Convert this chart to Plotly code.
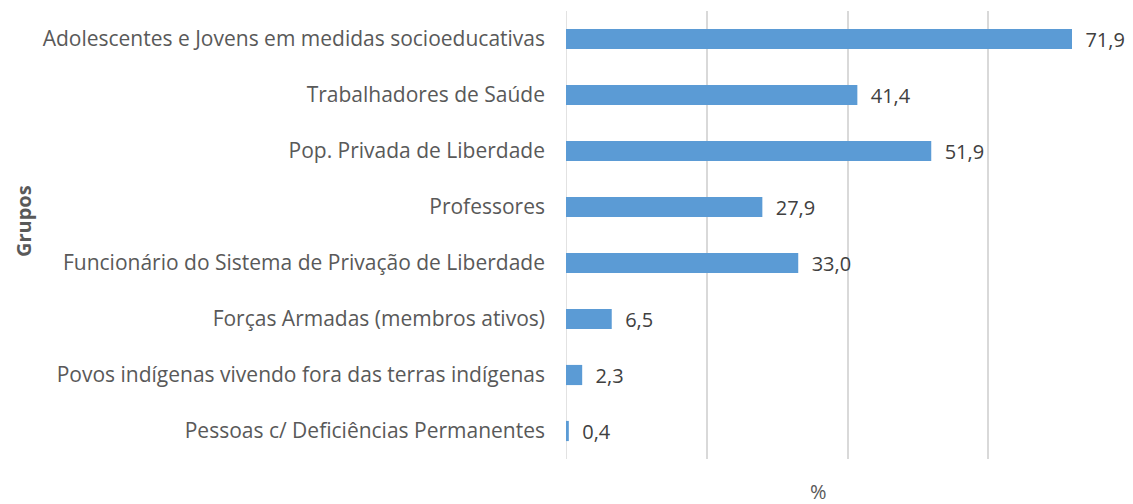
import plotly.graph_objects as go

categories = [
    "Adolescentes e Jovens em medidas socioeducativas",
    "Trabalhadores de Saúde",
    "Pop. Privada de Liberdade",
    "Professores",
    "Funcionário do Sistema de Privação de Liberdade",
    "Forças Armadas (membros ativos)",
    "Povos indígenas vivendo fora das terras indígenas",
    "Pessoas c/ Deficiências Permanentes",
]
values = [71.9, 41.4, 51.9, 27.9, 33.0, 6.5, 2.3, 0.4]
x_ticks = [0, 20, 40, 60, 80]

FONT = "Open Sans"
LABEL = "#595959"

# page body has an 8px default margin: figure occupies 8..1133 x 8..504
fig = go.Figure(
    go.Bar(
        x=values,
        y=categories,
        orientation="h",
        marker=dict(color="#5B9BD5", line=dict(width=0)),
        width=0.36,
        texttemplate="\u00a0\u00a0%{x:.1f}",
        textposition="outside",
        constraintext="none",
        textfont=dict(family=FONT, size=20, color="#404040"),
        cliponaxis=False,
        hoverinfo="skip",
    )
)

fig.update_layout(
    width=1125,
    height=496,
    separators=",.",
    margin=dict(l=558, r=4, t=3, b=45),
    paper_bgcolor="white",
    plot_bgcolor="white",
    showlegend=False,
    font=dict(family=FONT, size=20, color=LABEL),
)

fig.update_xaxes(
    range=[0, 80],
    tickvals=x_ticks,
    showticklabels=False,
    showgrid=True,
    gridcolor="#D9D9D9",
    gridwidth=1.5,
    zeroline=False,
    showline=False,
    ticks="",
)
fig.update_yaxes(
    autorange="reversed",
    showgrid=False,
    zeroline=False,
    showline=False,
    ticks="",
    ticklabelstandoff=20,
    tickfont=dict(family=FONT, size=21, color=LABEL),
)

fig.add_shape(type="line", xref="x", yref="paper", x0=0, x1=0, y0=0, y1=1,
              line=dict(color="#D9D9D9", width=1.5), layer="below")

fig.add_annotation(
    text="%", xref="paper", yref="paper", x=(818 - 566) / 563, y=0, yshift=-32,
    showarrow=False, font=dict(family=FONT, size=20, color=LABEL),
    xanchor="center", yanchor="middle",
)
fig.add_annotation(
    text="<b>Grupos</b>", xref="paper", yref="paper", x=0, xshift=-(566 - 23),
    y=(459 - 221) / 448, showarrow=False, textangle=-90,
    font=dict(family=FONT, size=20, color=LABEL),
    xanchor="center", yanchor="middle",
)

fig.write_html("out.html")
